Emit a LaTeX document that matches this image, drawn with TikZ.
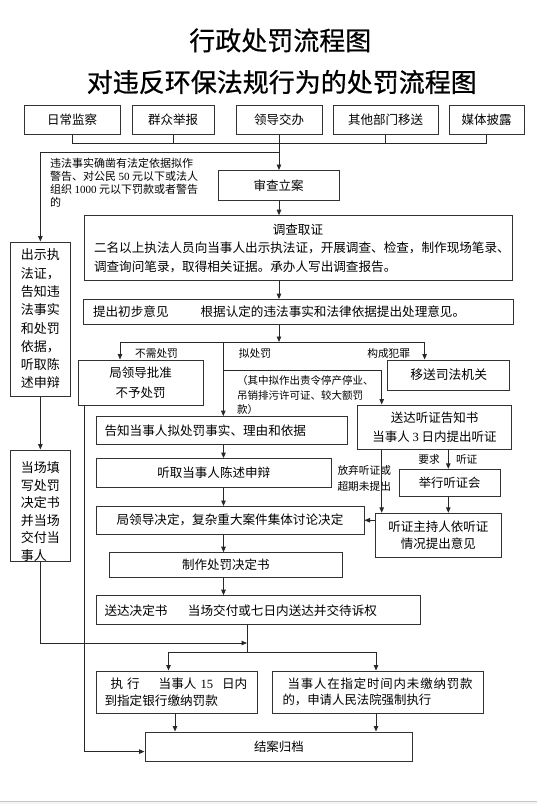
\documentclass[tikz,border=0pt]{standalone}
\usepackage{fontspec}
\setmainfont{Liberation Serif}
\newfontfamily\cjk{Noto Sans CJK SC}
\newfontfamily\cjkbold[FakeBold=0.8]{Noto Sans CJK SC}
\newfontfamily\cjkmid[FakeBold=0.5]{Noto Sans CJK SC}
\usetikzlibrary{arrows.meta}
\definecolor{boxc}{RGB}{50,50,50}
\definecolor{linec}{RGB}{40,40,40}
\newcommand\nm[1]{{\rmfamily #1}}
\newcommand\fs[2]{\fontsize{#1}{#2}\selectfont}
\begin{document}
\begin{tikzpicture}[x=1pt,y=-1pt,
  pbox/.style={draw=boxc,line width=1pt,inner sep=0pt,font=\cjk\fs{12.5}{15},text=black},
  conn/.style={draw=linec,line width=0.9pt},
  arr/.style={conn,-{Triangle[length=5.5pt,width=4.5pt]}},
  lbl/.style={inner sep=0pt,font=\cjk\fs{10.7}{13},text=black}]
\useasboundingbox (0,0) rectangle (537,804);
\fill[white] (0,0) rectangle (537,802);
\fill[gray!8] (0,802) rectangle (537,804);
\draw[gray!45,line width=0.8pt] (0,801.6) -- (537,801.6);

% titles
\node[font=\cjkmid\fs{26}{30},inner sep=0pt] (t1) at (280.3,40.4) {行政处罚流程图};
\node[font=\cjkbold\fs{26}{30},inner sep=0pt] (t2) at (281.8,82) {对违反环保法规行为的处罚流程图};

% sources
\node[pbox,minimum width=96pt,minimum height=29.5pt] (s1) at (72,119.75) {日常监察};
\node[pbox,minimum width=82pt,minimum height=29.5pt] (s2) at (173,119.75) {群众举报};
\node[pbox,minimum width=86pt,minimum height=29.5pt] (s3) at (279,119.75) {领导交办};
\node[pbox,minimum width=105pt,minimum height=29.5pt] (s4) at (385.5,119.75) {其他部门移送};
\node[pbox,minimum width=75pt,minimum height=29.5pt] (s5) at (486.5,119.75) {媒体披露};

% main column
\node[pbox,minimum width=121pt,minimum height=29.5pt] (sclj) at (278.5,185.25) {审查立案};
\node[pbox,minimum width=428pt,minimum height=65.1pt,text width=408pt,inner xsep=10pt,align=left,font=\cjk\fs{12.6}{18.85}] (dczz) at (298,248.25) {\makebox[408pt]{调查取证}\\二名以上执法人员向当事人出示执法证，开展调查、检查，制作现场笔录、\\调查询问笔录，取得相关证据。承办人写出调查报告。};
\node[pbox,minimum width=430.7pt,minimum height=24.4pt,text width=410.7pt,inner xsep=10pt,align=left,font=\cjk\fs{12.6}{15}] (tcyj) at (298.35,311.8) {提出初步意见\hspace{32pt}根据认定的违法事实和法律依据提出处理意见。};
\node[pbox,minimum width=125pt,minimum height=45pt,align=center,font=\cjk\fs{12.5}{19.7}] (ldpz) at (140.5,382.5) {局领导批准\\不予处罚};
\node[pbox,minimum width=121.9pt,minimum height=30pt,font=\cjk\fs{12.8}{15}] (ysjg) at (448.65,375) {移送司法机关};
\node[pbox,minimum width=251.6pt,minimum height=27.4pt,text width=234.6pt,inner xsep=8.5pt,align=left,font=\cjk\fs{12.6}{15}] (gz) at (221.8,430.3) {告知当事人拟处罚事实、理由和依据};
\node[pbox,minimum width=154.4pt,minimum height=44.3pt,align=center,font=\cjk\fs{12.5}{18.3}] (sdtz) at (434.5,427.15) {送达听证告知书\\当事人 \nm{3} 日内提出听证};
\node[pbox,minimum width=235.5pt,minimum height=29.1pt,font=\cjk\fs{12.55}{15}] (tq) at (213.75,473.15) {听取当事人陈述申辩};
\node[pbox,minimum width=100.7pt,minimum height=26.7pt,font=\cjk\fs{12.3}{15}] (jxtz) at (449.65,482.65) {举行听证会};
\node[pbox,minimum width=268pt,minimum height=27.5pt,font=\cjk\fs{12.6}{15}] (jld) at (230,520.25) {局领导决定，复杂重大案件集体讨论决定};
\node[pbox,minimum width=125.3pt,minimum height=44pt,align=center,font=\cjk\fs{12.5}{17.4}] (tzzc) at (438.35,535.3) {听证主持人依听证\\情况提出意见};
\node[pbox,minimum width=233.5pt,minimum height=24.8pt,font=\cjk\fs{12.5}{15}] (zz) at (225.75,565.1) {制作处罚决定书};
\node[pbox,minimum width=324.5pt,minimum height=29.1pt,text width=307.5pt,inner xsep=8.5pt,align=left,font=\cjk\fs{12.6}{15}] (sd) at (258.25,610.25) {送达决定书\hspace{20.5pt}当场交付或七日内送达并交待诉权};
\node[pbox,minimum width=161.5pt,minimum height=42pt,text width=144.5pt,inner xsep=8.5pt,align=left,font=\cjk\fs{12.6}{16.6}] (zx) at (176.75,692) {\mbox{\hspace*{6pt}执\hspace{4pt}行\hspace{19pt}当事人\hspace{4pt}\nm{15}\hspace{9pt}日内}\\到指定银行缴纳罚款};
\node[pbox,minimum width=211pt,minimum height=42pt,text width=190pt,inner xsep=10.5pt,align=left,font=\cjk\fs{12.4}{16.6}] (qz) at (377.5,692) {\hspace*{5pt}\makebox[185pt][s]{当\hfil 事\hfil 人\hfil 在\hfil 指\hfil 定\hfil 时\hfil 间\hfil 内\hfil 未\hfil 缴\hfil 纳\hfil 罚\hfil 款}\\的，申请人民法院强制执行};
\node[pbox,minimum width=267.7pt,minimum height=29pt,font=\cjk\fs{12.4}{15}] (ja) at (278.85,746.5) {结案归档};

% left column
\node[pbox,minimum width=60.7pt,minimum height=154pt,align=center,font=\cjk\fs{13}{18.3}] (cszf) at (40.35,319) {出示执\\法证，\\告知违\\法事实\\和处罚\\依据，\\听取陈\\述申辩};
\node[pbox,minimum width=60.7pt,minimum height=111pt] (dctx) at (40.35,505.5) {};
\node[lbl,font=\cjk\fs{13}{17.5},align=left] (dctxt) at (40.35,511.4) {当场填\\写处罚\\决定书\\并当场\\交付当\\事人};

% labels
\node[lbl,align=left,anchor=west,font=\cjk\fs{11}{13}] (note1) at (50,182.35) {违法事实确凿有法定依据拟作\\警告、对公民 \nm{50} 元以下或法人\\组织 \nm{1000} 元以下罚款或者警告\\的};
\node[lbl] (l1) at (156.5,353) {不需处罚};
\node[lbl] (l2) at (255,353) {拟处罚};
\node[lbl] (l3) at (388.7,353) {构成犯罪};
\node[lbl,align=left,anchor=west,font=\cjk\fs{10.5}{14.4}] (note2) at (237,395.1) {（其中拟作出责令停产停业、\\吊销排污许可证、较大额罚\\款）};
\node[lbl,align=left,anchor=west,font=\cjk\fs{10.7}{15.3}] (fq) at (337.3,478.35) {放弃听证或\\超期未提出};
\node[lbl] (yq) at (429,459.3) {要求};
\node[lbl] (tzl) at (466.7,459.3) {听证};

% coordinates
\coordinate (bus) at (279,143);
\coordinate (lb) at (279,152.7);
\coordinate (br) at (279,342);
\coordinate (bl) at (120,342);
\coordinate (brr) at (424.6,342);
\coordinate (cv) at (223.3,342);
\coordinate (hv) at (223.3,370);
\coordinate (hz) at (381.7,370);
\coordinate (jv) at (448.3,470);
\coordinate (mv) at (223.5,500);
\coordinate (sv) at (247,652);
\coordinate (sl) at (168.5,652);
\coordinate (sr) at (376,652);
\coordinate (jn) at (247,643);
\coordinate (ea) at (175,722);
\coordinate (eb) at (376,722);
\coordinate (lv) at (84,751.6);

% connectors
\draw[conn] (s1.south) -- (s1.south |- bus) -- (s5.south |- bus) -- (s5.south);
\draw[conn] (s2.south) -- (s2.south |- bus);
\draw[conn] (s4.south) -- (s4.south |- bus);
\draw[arr] (s3.south) -- (s3.south |- sclj.north);
\draw[arr] (lb) -| (cszf.north);
\draw[arr] (sclj.south -| bus) -- (dczz.north -| bus);
\draw[arr] (dczz.south -| bus) -- (tcyj.north -| bus);
\draw[arr] (tcyj.south -| bus) -- (br);
\draw[conn] (bl) -- (brr);
\draw[arr] (bl) -- (bl |- ldpz.north);
\draw[arr] (brr) -- (brr |- ysjg.north);
\draw[arr] (cv) -- (cv |- gz.north);
\draw[arr] (hv) -- (hz) -- (hz |- sdtz.north);
\draw[arr] (sdtz.south -| hz) -- (tzzc.north -| hz);
\draw[arr] (sdtz.south -| jv) -- (jxtz.north -| jv);
\draw[arr] (jxtz.south -| jv) -- (tzzc.north -| jv);
\draw[arr] (tzzc.west |- jld.east) -- (jld.east);
\draw[arr] (gz.south -| mv) -- (tq.north -| mv);
\draw[arr] (tq.south -| mv) -- (jld.north -| mv);
\draw[arr] (jld.south -| mv) -- (zz.north -| mv);
\draw[arr] (zz.south -| mv) -- (sd.north -| mv);
\draw[conn] (sd.south -| sv) -- (sv);
\draw[conn] (sl) -- (sr);
\draw[arr] (sl) -- (sl |- zx.north);
\draw[arr] (sr) -- (sr |- qz.north);
\draw[arr] (cszf.south) -- (dctx.north);
\draw[arr] (dctx.south) |- (jn);
\draw[arr] (zx.south -| ea) -- (ja.north -| ea);
\draw[arr] (qz.south -| eb) -- (ja.north -| eb);
\draw[arr] (ldpz.south -| lv) -- (lv) -- (lv -| ja.west);
\end{tikzpicture}
\end{document}
